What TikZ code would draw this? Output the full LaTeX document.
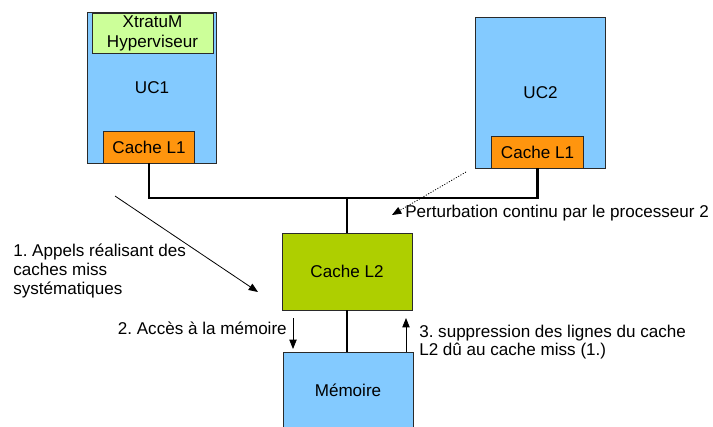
\documentclass[tikz,border=0pt]{standalone}
\usepackage{fontspec}
\setmainfont{Liberation Sans}
\usepackage{tikz}
\usetikzlibrary{arrows.meta, positioning}
\usepackage{xcolor}

\definecolor{skyblue}{HTML}{83CAFF}
\definecolor{palegreen}{HTML}{CCFF99}
\definecolor{cacheorange}{HTML}{FF950E}
\definecolor{yellowgreen}{HTML}{AECF00}
\definecolor{edgegray}{HTML}{2A2A2A}

\tikzset{
  box/.style={draw=edgegray, line width=0.6pt, inner sep=0pt, align=center},
  cpu/.style={box, fill=skyblue, minimum width=97pt, minimum height=113.25pt},
  hyper/.style={box, fill=palegreen, minimum width=90.75pt, minimum height=30pt},
  lone/.style={box, fill=cacheorange, minimum width=68.5pt, minimum height=24pt},
  ltwo/.style={box, fill=yellowgreen, minimum width=97.5pt, minimum height=57.75pt},
  mem/.style={box, fill=skyblue, minimum width=97.5pt, minimum height=57pt},
  bus/.style={line width=2.2pt},
  flow/.style={-{Triangle[length=7pt,width=5.5pt]}, line width=0.6pt},
  note/.style={align=left, inner sep=0pt}
}

\begin{document}
\frenchspacing
\begin{tikzpicture}[x=0.75pt, y=-0.75pt, font=\fontsize{12.8pt}{14pt}\selectfont]
  \clip (0,0) rectangle (713,426);
  \useasboundingbox (0,0) rectangle (713,426);

  % processors
  \node[cpu] (uc1) at (152,87.5) {UC1};
  \node[hyper, font=\fontsize{12.8pt}{15pt}\selectfont] (xm) at (152.5,33) {XtratuM\\Hyperviseur};
  \node[lone] (l1a) at (149,147) {Cache L1};

  \node[cpu] (uc2) at (540.5,92.5) {UC2};
  \node[lone] (l1b) at (537.5,152) {Cache L1};

  % shared cache and memory
  \node[ltwo] (l2) at (347,271.5) {Cache L2};
  \node[mem] (mem) at (348,390) {Mémoire};

  % bus
  \coordinate (junc) at (l2.north |- 0,198);
  \draw[bus] (l1a.south) |- (junc) -| (l1b.south);
  \draw[bus] (junc) -- (l2.north);
  \draw[bus] (l2.south) -- (l2.south |- mem.north);

  % step 1
  \node[note, anchor=west] (n1) at (13,271) {1. Appels réalisant des\\caches miss\\systématiques};
  \coordinate (a1s) at (115,196);
  \coordinate (a1e) at (258,292);
  \draw[flow] (a1s) -- (a1e);

  % perturbation by the second processor
  \node[note, anchor=west] (np) at (405,213) {Perturbation continu par le processeur 2};
  \coordinate (p1s) at (466,172);
  \coordinate (p1e) at (392,215);
  \draw[flow, dash pattern=on 0.8pt off 1.2pt] (p1s) -- (p1e);

  % step 2
  \node[note, anchor=east] (n2) at (287,328) {2. Accès à la mémoire};
  \coordinate (a2s) at (293,318);
  \coordinate (a2e) at (293,349);
  \draw[flow] (a2s) -- (a2e);

  % step 3
  \node[note, anchor=west] (n3) at (419,342) {3. suppression des lignes du cache\\L2 dû au cache miss (1.)};
  \coordinate (a3s) at (406,352);
  \coordinate (a3e) at (406,318);
  \draw[flow] (a3s) -- (a3e);
\end{tikzpicture}
\end{document}
